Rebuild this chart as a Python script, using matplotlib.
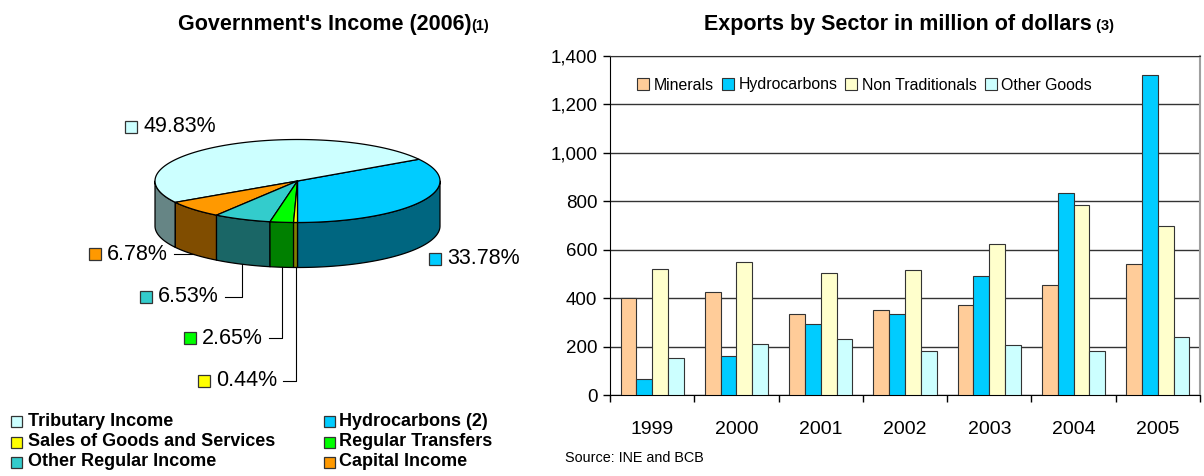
import numpy as np
import matplotlib
matplotlib.use('Agg')
import matplotlib.pyplot as plt
from matplotlib.patches import Polygon, Rectangle

plt.rcParams['font.family'] = ['Liberation Sans', 'DejaVu Sans']

# Government's income 2006, shares in %
income_labels = ['Tributary Income', 'Hydrocarbons (2)', 'Sales of Goods and Services',
                 'Regular Transfers', 'Other Regular Income', 'Capital Income']
income_share = [49.83, 33.78, 0.44, 2.65, 6.53, 6.78]
income_top = ['#CCFFFF', '#00CCFF', '#FFFF00', '#00FF00', '#33CCCC', '#FF9900']
income_side = ['#668585', '#006680', '#808000', '#008000', '#1A6666', '#804D00']

# Exports by sector, million of dollars
years = ['1999', '2000', '2001', '2002', '2003', '2004', '2005']
minerals = [400, 425, 333, 350, 370, 455, 542]
hydrocarbons = [65, 162, 292, 333, 490, 835, 1320]
non_traditionals = [522, 548, 502, 517, 623, 785, 700]
other_goods = [153, 210, 230, 180, 205, 180, 240]
sectors = ['Minerals', 'Hydrocarbons', 'Non Traditionals', 'Other Goods']
sector_colors = ['#FFCC99', '#00CCFF', '#FFFFCC', '#CCFFFF']

fig = plt.figure(figsize=(12.04, 4.76), dpi=100)

# overlay axes in pixel units (y down) for the 3d pie, titles and notes
ax = fig.add_axes([0, 0, 1, 1])
ax.set_xlim(0, 1204)
ax.set_ylim(476, 0)
ax.axis('off')

# ---- 3d pie ----
cx, cy, ra, rb, depth = 297.5, 181.0, 142.5, 41.5, 45.0
draw_order = [1, 0, 5, 4, 3, 2]   # counter clockwise from the front


def ell(t, dy=0.0):
    t = np.radians(t)
    return cx + ra * np.cos(t), cy + dy - rb * np.sin(t)


spans = {}
start = -90.0
total = sum(income_share)
for i in draw_order:
    ext = 360.0 * income_share[i] / total
    spans[i] = (start, start + ext)
    start += ext

# side walls (only the front half is visible)
for i in draw_order:
    t1, t2 = spans[i]
    for lo, hi in [(-90, 0), (180, 270)]:
        s, e = max(t1, lo), min(t2, hi)
        if e <= s:
            continue
        ts = np.linspace(s, e, 80)
        xt, yt = ell(ts)
        xb, yb = ell(ts[::-1], depth)
        pts = np.column_stack([np.r_[xt, xb], np.r_[yt, yb]])
        ax.add_patch(Polygon(pts, closed=True, facecolor=income_side[i],
                             edgecolor='black', lw=0.9, joinstyle='round'))

# top faces
for i in draw_order:
    t1, t2 = spans[i]
    ts = np.linspace(t1, t2, 120)
    xt, yt = ell(ts)
    pts = np.column_stack([np.r_[cx, xt], np.r_[cy, yt]])
    ax.add_patch(Polygon(pts, closed=True, facecolor=income_top[i],
                         edgecolor='black', lw=0.9, joinstyle='round'))

# data labels: square centre and y of each label
label_pos = [(131, 127), (435, 259), (204, 381), (190, 338), (146, 297), (95, 254)]
with_leader = [False, False, True, True, True, True]
label_texts = []
for i, (lx, ly) in enumerate(label_pos):
    ax.add_patch(Rectangle((lx - 6, ly - 6), 12, 12, facecolor=income_top[i],
                           edgecolor='#333333', lw=0.9))
    t = ax.text(lx + 12, ly, f'{income_share[i]:.2f}%', fontsize=15.5,
                ha='left', va='center')
    label_texts.append(t)

# legend of the pie, drawn as 2 columns
leg_rows = [421, 442, 462]
leg_sq_x = [16, 329]
leg_tx_x = [28, 339]
for k, name in enumerate(income_labels):
    col, row = k % 2, k // 2
    y = leg_rows[row]
    ax.add_patch(Rectangle((leg_sq_x[col] - 5.5, y - 5.5), 11, 11,
                           facecolor=income_top[k], edgecolor='#333333', lw=0.9))
    ax.text(leg_tx_x[col], y, name, fontsize=13, fontweight='bold',
            ha='left', va='center')

# titles
t_left = ax.text(178, 30, "Government's Income (2006)", fontsize=15.5,
                 fontweight='bold', ha='left', va='baseline')
t_right = ax.text(704, 30, 'Exports by Sector in million of dollars', fontsize=15.5,
                  fontweight='bold', ha='left', va='baseline')

ax.text(565, 458, 'Source: INE and BCB', fontsize=10.4, ha='left', va='center')

# ---- bar chart ----
ax2 = fig.add_axes([610 / 1204, 81 / 476, 590 / 1204, 339 / 476])
ax2.patch.set_alpha(0)
x = np.arange(len(years))
w = 0.1875
series = [minerals, hydrocarbons, non_traditionals, other_goods]
for k, vals in enumerate(series):
    ax2.bar(x + (k - 1.5) * w, vals, w, color=sector_colors[k],
            edgecolor='#333333', linewidth=0.8, label=sectors[k], zorder=3)

ax2.set_xlim(-0.5, len(years) - 0.5)
ax2.set_ylim(0, 1400)
yt = list(range(0, 1401, 200))
ax2.set_yticks(yt)
ax2.set_yticklabels([f'{v:,}' for v in yt])
ax2.yaxis.grid(True, color='#333333', lw=1)
ax2.set_axisbelow(True)

ax2.set_xticks(np.arange(-0.5, len(years), 1))
ax2.set_xticklabels([])
ax2.set_xticks(x, minor=True)
ax2.set_xticklabels(years, minor=True)
ax2.tick_params(axis='x', which='major', length=5, direction='out', width=1)
ax2.tick_params(axis='x', which='minor', length=0, pad=19, labelsize=14)
ax2.tick_params(axis='y', length=5, width=1, labelsize=13.5, pad=4)

for s in ['left', 'bottom']:
    ax2.spines[s].set_color('black')
ax2.spines['top'].set_color('#333333')
ax2.spines['right'].set_color('#A0A0A0')
ax2.spines['right'].set_linewidth(1.5)

ax2.legend(loc='center left', bbox_to_anchor=((637 - 610) / 590, (395 - 85) / 339),
           ncol=4, frameon=False, fontsize=11.4, handlelength=0.75, handleheight=0.75,
           handletextpad=0.3, columnspacing=0.5, borderpad=0, borderaxespad=0)

# leaders and small title notes need the text extents
fig.canvas.draw()
rend = fig.canvas.get_renderer()
for i, t in enumerate(label_texts):
    if not with_leader[i]:
        continue
    t1, t2 = spans[i]
    ex, ey = ell((t1 + t2) / 2, depth)
    x0 = t.get_window_extent(rend).x1 + 6
    ly = label_pos[i][1]
    ax.plot([x0, ex, ex], [ly, ly, ey], color='black', lw=0.8)

for t, note in [(t_left, '(1)'), (t_right, ' (3)')]:
    x1 = t.get_window_extent(rend).x1
    ax.text(x1, 30, note, fontsize=10.5, fontweight='bold', ha='left', va='baseline')

fig.savefig('out.png', dpi=100)
